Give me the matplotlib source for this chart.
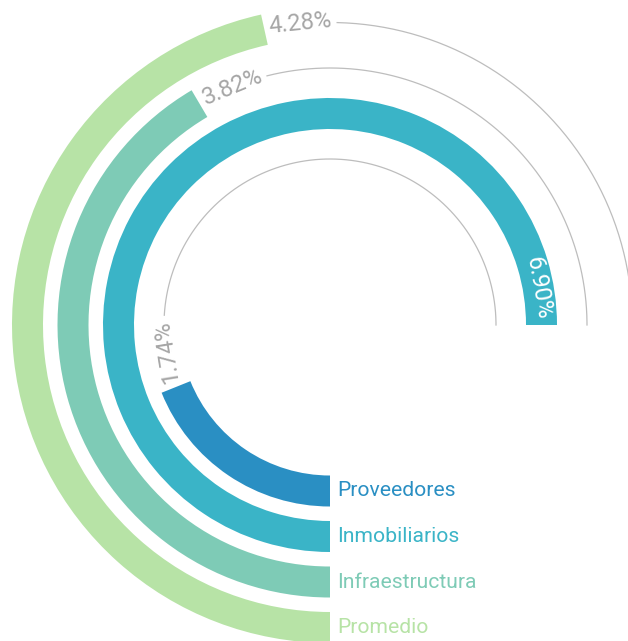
import numpy as np
import matplotlib
matplotlib.use("Agg")
import matplotlib.pyplot as plt

# Radial bar chart: each ring is one category, drawn clockwise from 6 o'clock
categories = ["Proveedores", "Inmobiliarios", "Infraestructura", "Promedio"]
values = [1.74, 6.90, 3.82, 4.28]
value_labels = ["1.74%", "6.90%", "3.82%", "4.28%"]
colors = ["#2a8fc3", "#3ab4c7", "#7ecbb6", "#b7e3a6"]
full_turn = 9.2  # percentage represented by a complete circle

W, H = 628, 641
cx, cy = 330, H - 325          # centre of the rings, in pixels
R_AXES = 340
radii = [166, 211.5, 257, 302.5]
thickness = 31
track_end = 1.5 * np.pi        # grey guide lines stop at 3 o'clock

plt.rcParams["font.family"] = ["Roboto", "DejaVu Sans"]

fig = plt.figure(figsize=(W / 100, H / 100), dpi=100)
ax = fig.add_axes([(cx - R_AXES) / W, (cy - R_AXES) / H, 2 * R_AXES / W, 2 * R_AXES / H],
                  projection="polar")
ax.set_theta_zero_location("S")
ax.set_theta_direction(-1)
ax.set_rlim(0, R_AXES)
ax.axis("off")

renderer = fig.canvas.get_renderer()


def text_width(s, size):
    t = ax.text(0, 0, s, fontsize=size)
    w = t.get_window_extent(renderer).width
    t.remove()
    return w


value_size = 17
gap = 5

for name, v, lab, col, r in zip(categories, values, value_labels, colors, radii):
    theta = v / full_turn * 2 * np.pi
    ax.barh(r, theta, left=0, height=thickness, color=col, align="center",
            edgecolor="none")

    aw = text_width(lab, value_size) / r
    if theta >= track_end - 1e-6:
        mid = theta - gap / r - aw / 2
        tcol = "white"
        line_start = None
    else:
        start = theta + gap / r
        mid = start + aw / 2
        tcol = "#a6a6a6"
        line_start = start + aw + gap / r
    rot = 180 - np.degrees(mid)
    ax.text(mid, r, lab, fontsize=value_size, color=tcol,
            rotation=rot, rotation_mode="anchor", ha="center", va="center")

    if line_start is not None and line_start < track_end:
        th = np.linspace(line_start, track_end, 200)
        ax.plot(th, np.full_like(th, r), color="#bdbdbd", lw=0.9)

    ax.annotate(name, xy=(0, r), xytext=(7, 0), textcoords="offset pixels",
                fontsize=15.2, color=col, ha="left", va="center")

fig.savefig("out.png", dpi=100, facecolor="white")
